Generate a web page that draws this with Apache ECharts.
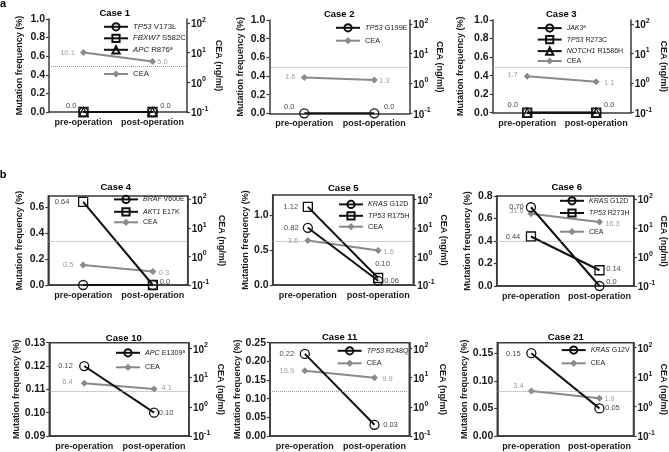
<!DOCTYPE html>
<html><head><meta charset="utf-8">
<script src="https://cdn.jsdelivr.net/npm/echarts@6/dist/echarts.min.js"></script>
<style>html,body{margin:0;padding:0;background:#fff}#c{width:669px;height:452px}</style>
</head><body><div id="c"></div>
<script>
// ---------------- DATA ----------------
const categories = ['pre-operation', 'post-operation'];
const caseTitles = ['Case 1', 'Case 2', 'Case 3', 'Case 4', 'Case 5', 'Case 6', 'Case 10', 'Case 11', 'Case 21'];

const case1Mutations = ['TP53 V173L', 'FBXW7 S582C', 'APC R876ᵃ'];
const case1Freq = [[0, 0], [0, 0], [0, 0]];
const case1CEA = [10.1, 5.0];

const case2Mutations = ['TP53 G199E'];
const case2Freq = [[0, 0]];
const case2CEA = [1.6, 1.3];

const case3Mutations = ['JAK3ᵇ', 'TP53 R273C', 'NOTCH1 R1586H'];
const case3Freq = [[0, 0], [0, 0], [0, 0]];
const case3CEA = [1.7, 1.1];

const case4Mutations = ['BRAF V600E', 'AKT1 E17K'];
const case4Freq = [[0, 0], [0.64, 0]];
const case4CEA = [0.5, 0.3];

const case5Mutations = ['KRAS G12D', 'TP53 R175H'];
const case5Freq = [[0.82, 0.06], [1.12, 0.10]];
const case5CEA = [3.6, 1.6];

const case6Mutations = ['KRAS G12D', 'TP53 R273H'];
const case6Freq = [[0.70, 0], [0.44, 0.14]];
const case6CEA = [31.6, 16.3];

const case10Mutations = ['APC E1309ᵃ'];
const case10Freq = [[0.12, 0.10]];
const case10CEA = [6.4, 4.1];

const case11Mutations = ['TP53 R248Q'];
const case11Freq = [[0.22, 0.03]];
const case11CEA = [16.9, 9.9];

const case21Mutations = ['KRAS G12V'];
const case21Freq = [[0.15, 0.05]];
const case21CEA = [3.4, 1.9];

// left-axis tick labels (mutation frequency, %)
const ticksA = [0, 0.2, 0.4, 0.6, 0.8, 1.0];
const ticks4 = [0, 0.2, 0.4, 0.6];
const ticks5 = [0, 0.5, 1.0];
const ticks6 = [0, 0.2, 0.4, 0.6, 0.8];
const ticks10 = [0.09, 0.10, 0.11, 0.12, 0.13];
const ticks11 = [0, 0.05, 0.10, 0.15, 0.20, 0.25];
const ticks21 = [0, 0.05, 0.10, 0.15];
// right-axis (CEA, ng/ml) decade exponents
const ceaExponents = [-1, 0, 1, 2];
const ceaCutoff = 3.4;

const mutations = [case1Mutations, case2Mutations, case3Mutations, case4Mutations, case5Mutations, case6Mutations, case10Mutations, case11Mutations, case21Mutations];
const freqs = [case1Freq, case2Freq, case3Freq, case4Freq, case5Freq, case6Freq, case10Freq, case11Freq, case21Freq];
const ceas = [case1CEA, case2CEA, case3CEA, case4CEA, case5CEA, case6CEA, case10CEA, case11CEA, case21CEA];
const leftTicks = [ticksA, ticksA, ticksA, ticks4, ticks5, ticks6, ticks10, ticks11, ticks21];

// ---------------- LAYOUT / STYLE ----------------
const FONT = "'Liberation Sans', Arial, Helvetica, sans-serif";
const grids = [
  [49, 19, 138, 93], [269.3, 20, 140, 93.3], [492.7, 20, 138, 92.7],
  [48.3, 196, 139.4, 89], [272.7, 195, 140.6, 90], [496.7, 196, 140, 90],
  [49.3, 342.7, 139.7, 93.3], [270, 342.7, 139.3, 93.3], [497.3, 342.7, 139.4, 93.3]
];
const leftRange = [[0, 1], [0, 1], [0, 1], [0, 0.685], [0, 1.29], [0, 0.8], [0.09, 0.13], [0, 0.25], [0, 0.169]];
const leftDec = [1, 1, 1, 1, 1, 1, 2, 2, 2];
const rightMax = [2.13, 2.13, 2.13, 2.12, 2.15, 2.11, 2.2, 2.19, 2.17];
const leftNameGap = [24.5, 24, 28, 24, 23, 25, 25.5, 25.5, 28];
const rightNameGap = [26.5, 24.5, 28, 28.8, 24, 20.5, 26.5, 29, 25.5];
const titlePos = [[114.7, 13.3], [339.2, 14], [561.3, 14], [115.8, 187.3], [343.3, 188.3], [566.7, 187.3], [123.8, 338], [339.7, 337.3], [565.8, 337.3]];
// legend: [icon left x, first item centre y, spacing, CEA item centre y, font size]
const legendPos = [
  [103, 26.7, 11.3, 74, 7.8], [335, 27.7, 13, 40.7, 7.4], [536.7, 28, 11.3, 61, 7],
  [113, 199.3, 12.2, 222.3, 7], [338, 204.3, 11.2, 226.7, 7.2], [559, 200.7, 12, 231.7, 7],
  [115, 352.7, 14, 367.3, 7.2], [336.7, 350.7, 12.6, 363.3, 7.2], [560.7, 350, 13, 363.3, 7]
];
// label offsets (centre of text relative to point), null = no label
const mutLabelOff = [
  [[[-12.4, -6], [13, -6]], null, null],
  [[[-15, -6.5], [15, -6.5]]],
  [[[-14.4, -7.4], [13, -7.4]], null, null],
  [null, [[-21, 0], [12, -3]]],
  [[[-16.5, 0], [13.5, 0]], [[-17, 0], [4.5, -14]]],
  [[[-14.5, 0], [12, -4]], [[-18, 0], [14, -1]]],
  [[[-18.7, 0], [12, 0]]],
  [[[-18, 0], [16, 0]]],
  [[[-18, 1], [13, 0]]]
];
const ceaLabelOff = [
  [[-16, 0], [10, 0]], [[-14, 0], [10, 1.3]], [[-14.7, -1], [13, 1.3]],
  [[-15, 0], [11, 1.5]], [[-15, 0], [10.5, 1]], [[-14.5, -2.5], [13, 1.5]],
  [[-16.7, -1.5], [12.7, -1.5]], [[-18, 0.5], [13, 1]], [[-13, -5], [10, 0.5]]
];
const symbols = ['circle', 'rect', 'triangle'];
const AXIS_COLOR = '#3a3a3a';
const CEA_COLOR = '#8a8a8a';

// ---------------- BUILD ----------------
const option = {
  animation: false,
  backgroundColor: '#fff',
  grid: [], xAxis: [], yAxis: [], series: [], legend: [],
  graphic: [
    { type: 'text', x: 3, y: 4, style: { text: 'a', font: "bold 11px " + FONT, fill: '#000', align: 'center', verticalAlign: 'middle' } },
    { type: 'text', x: 3, y: 175, style: { text: 'b', font: "bold 11px " + FONT, fill: '#000', align: 'center', verticalAlign: 'middle' } }
  ]
};

function legendFormatter(name) {
  if (name === 'CEA') return '{n|CEA}';
  const i = name.indexOf(' ');
  if (i < 0) return '{g|' + name + '}';
  return '{g|' + name.slice(0, i) + '}{n| ' + name.slice(i + 1) + '}';
}

for (let p = 0; p < 9; p++) {
  const [gl, gt, gw, gh] = grids[p];
  const boxed = p >= 3;
  option.grid.push({ left: gl, top: gt, width: gw, height: gh, show: boxed, borderColor: AXIS_COLOR, borderWidth: 1.5, backgroundColor: 'transparent' });
  option.xAxis.push({
    type: 'category', gridIndex: p, data: categories, boundaryGap: true,
    axisLine: { onZero: false, lineStyle: { color: AXIS_COLOR, width: 1.5 } },
    axisTick: { alignWithLabel: true, length: 3, lineStyle: { color: AXIS_COLOR, width: 1.2 } },
    axisLabel: { interval: 0, margin: 6, fontSize: 9, fontWeight: 'bold', fontFamily: FONT, color: '#1a1a1a' },
    splitLine: { show: false }
  });
  const dec = leftDec[p];
  option.yAxis.push({
    type: 'value', gridIndex: p, position: 'left', min: leftRange[p][0], max: leftRange[p][1],
    name: 'Mutation frequency (%)', nameLocation: 'middle', nameGap: leftNameGap[p], nameRotate: 90,
    nameTextStyle: { fontSize: 9, fontWeight: 'bold', fontFamily: FONT, color: '#1a1a1a' },
    axisLine: { show: true, onZero: false, lineStyle: { color: AXIS_COLOR, width: 1.5 } },
    axisTick: { show: true, length: 3, customValues: leftTicks[p], lineStyle: { color: AXIS_COLOR, width: 1.2 } },
    axisLabel: { customValues: leftTicks[p], margin: 4, fontSize: 10.5, fontWeight: 'bold', fontFamily: FONT, color: '#1a1a1a', formatter: v => v.toFixed(dec) },
    splitLine: { show: false }
  });
  option.yAxis.push({
    type: 'value', gridIndex: p, position: 'right', min: -1, max: rightMax[p],
    name: 'CEA (ng/ml)', nameLocation: 'middle', nameGap: rightNameGap[p], nameRotate: -90,
    nameTextStyle: { fontSize: 9, fontWeight: 'bold', fontFamily: FONT, color: '#1a1a1a' },
    axisLine: { show: true, onZero: false, lineStyle: { color: AXIS_COLOR, width: 1.5 } },
    axisTick: { show: true, length: 3, customValues: ceaExponents, lineStyle: { color: AXIS_COLOR, width: 1.2 } },
    axisLabel: {
      customValues: ceaExponents, margin: 4, formatter: v => '{b|10}{e|' + v + '}',
      rich: {
        b: { fontSize: 10, fontWeight: 'bold', fontFamily: FONT, color: '#1a1a1a', lineHeight: 13, verticalAlign: 'bottom' },
        e: { fontSize: 7, fontWeight: 'bold', fontFamily: FONT, color: '#1a1a1a', verticalAlign: 'top', lineHeight: 8 }
      }
    },
    splitLine: { show: false }
  });
  option.graphic.push({ type: 'text', x: titlePos[p][0], y: titlePos[p][1], style: { text: caseTitles[p], font: "bold 9.5px " + FONT, fill: '#000', align: 'center', verticalAlign: 'middle' } });

  // CEA series
  const cea = ceas[p];
  const ceaOff = ceaLabelOff[p];
  option.series.push({
    type: 'line', name: 'CEA', xAxisIndex: p, yAxisIndex: 2 * p + 1, z: 2,
    symbol: 'diamond', symbolSize: 7,
    itemStyle: { color: CEA_COLOR },
    lineStyle: { color: CEA_COLOR, width: 2 },
    data: cea.map((v, k) => ({
      value: Math.log10(v),
      label: { show: true, position: 'inside', offset: ceaOff[k], formatter: () => v.toFixed(1), color: '#a0a0a0', fontSize: 7.5, fontFamily: FONT }
    })),
    markLine: {
      silent: true, symbol: ['none', 'none'], label: { show: false },
      lineStyle: { type: 'dotted', color: '#9a9a9a', width: 1 },
      data: [{ yAxis: Math.log10(ceaCutoff) }]
    }
  });
  // mutation series
  const names = mutations[p];
  names.forEach((nm, s) => {
    const offs = mutLabelOff[p][s];
    option.series.push({
      type: 'line', name: nm, xAxisIndex: p, yAxisIndex: 2 * p, z: 3,
      symbol: symbols[s], symbolSize: 9,
      itemStyle: { color: 'rgba(255,255,255,0)', borderColor: '#111', borderWidth: 1.3 },
      lineStyle: { color: '#111', width: 2 },
      data: freqs[p][s].map((v, k) => ({
        value: v,
        label: offs && offs[k] ? { show: true, position: 'inside', offset: offs[k], formatter: () => (v === 0 ? '0.0' : v.toFixed(2)), color: '#4a4a4a', fontSize: 7.5, fontFamily: FONT } : { show: false }
      }))
    });
  });
  const [lx, ly, sp, cy, fs] = legendPos[p];
  const rich = {
    g: { fontStyle: 'italic', fontSize: fs, fontFamily: FONT, color: '#222' },
    n: { fontSize: fs, fontFamily: FONT, color: '#222' }
  };
  option.legend.push({
    left: lx, top: ly - 4.5, orient: 'vertical', padding: 0, itemGap: sp - 9,
    itemWidth: 24, itemHeight: 9, data: names.slice(), selectedMode: false,
    formatter: legendFormatter, textStyle: { rich, lineHeight: 9 }
  });
  option.legend.push({
    left: lx, top: cy - 4.5, orient: 'vertical', padding: 0,
    itemWidth: 24, itemHeight: 9, data: ['CEA'], selectedMode: false,
    formatter: legendFormatter, textStyle: { rich, lineHeight: 9 }
  });
}

const chart = echarts.init(document.getElementById('c'), null, { renderer: 'canvas' });
chart.setOption(option);
</script>
</body></html>
